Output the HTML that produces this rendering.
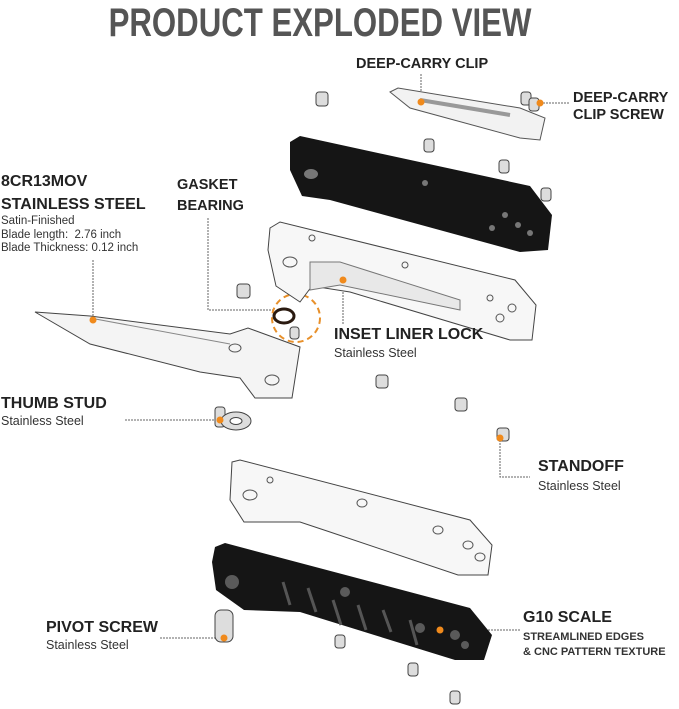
<!DOCTYPE html>
<html><head><meta charset="utf-8"><style>
body{margin:0;width:679px;height:709px;background:#fff;overflow:hidden;position:relative;font-family:"Liberation Sans",sans-serif;color:#222}
.t{position:absolute;white-space:nowrap}
.h{font-size:14.5px;font-weight:bold}
.s{font-size:12.5px;color:#333}
</style></head><body>
<svg width="679" height="709" style="position:absolute;left:0;top:0">
<text x="320" y="36" text-anchor="middle" font-family="Liberation Sans" font-weight="bold" font-size="40" fill="#555" transform="translate(320 0) scale(0.78 1) translate(-320 0)">PRODUCT EXPLODED VIEW</text>
<g stroke="#666" stroke-width="1" fill="none" stroke-dasharray="2 1">
<line x1="421" y1="74" x2="421" y2="102"/>
<line x1="540" y1="103" x2="570" y2="103"/>
<line x1="93" y1="260" x2="93" y2="320"/>
<polyline points="208,218 208,310 275,310"/>
<line x1="343" y1="280" x2="343" y2="325"/>
<line x1="125" y1="420" x2="215" y2="420"/>
<polyline points="500,440 500,477 530,477"/>
<line x1="160" y1="638" x2="220" y2="638"/>
<line x1="440" y1="630" x2="520" y2="630"/>
</g>
<circle cx="296" cy="318" r="24" fill="none" stroke="#e8902a" stroke-width="2" stroke-dasharray="6 4"/>
<polygon points="290,142 300,136 530,186 552,215 548,250 520,252 330,200 302,196 290,170" fill="#151515"/>
<g fill="#777"><ellipse cx="311" cy="174" rx="7" ry="5"/><circle cx="425" cy="183" r="3"/><circle cx="505" cy="215" r="3"/><circle cx="518" cy="225" r="3"/><circle cx="530" cy="233" r="3"/><circle cx="492" cy="228" r="3"/></g>
<path d="M390,92 L398,88 L520,108 L545,118 L540,140 L520,138 L410,108 Z" fill="#f2f2f2" stroke="#555"/>
<path d="M420,100 L510,115" stroke="#999" stroke-width="4"/>
<polygon points="270,228 280,222 515,280 536,305 532,340 510,340 350,292 312,286 300,302 276,286 268,250" fill="#f7f7f7" stroke="#444"/>
<path d="M310,262 L340,262 L460,300 L460,310 L340,285 L310,290 Z" fill="#e8e8e8" stroke="#777"/>
<g fill="none" stroke="#555"><ellipse cx="290" cy="262" rx="7" ry="5"/><circle cx="312" cy="238" r="3"/><circle cx="405" cy="265" r="3"/><circle cx="490" cy="298" r="3"/><circle cx="512" cy="308" r="4"/><circle cx="500" cy="318" r="4"/></g>
<polygon points="35,312 90,316 230,334 248,328 300,347 292,398 255,398 240,378 200,372 90,344" fill="#f4f4f4" stroke="#444"/>
<path d="M90,318 L230,344" stroke="#888"/>
<g fill="none" stroke="#555"><ellipse cx="235" cy="348" rx="6" ry="4"/><ellipse cx="272" cy="380" rx="7" ry="5"/></g>
<polygon points="232,462 240,460 470,520 492,545 488,575 458,575 330,532 300,522 244,522 230,500" fill="#f7f7f7" stroke="#444"/>
<g fill="none" stroke="#555"><ellipse cx="250" cy="495" rx="7" ry="5"/><circle cx="270" cy="480" r="3"/><ellipse cx="362" cy="503" rx="5" ry="4"/><ellipse cx="438" cy="530" rx="5" ry="4"/><ellipse cx="468" cy="545" rx="5" ry="4"/><ellipse cx="480" cy="557" rx="5" ry="4"/></g>
<polygon points="215,547 225,543 470,608 492,635 484,660 455,660 300,612 244,610 216,590 212,562" fill="#151515"/>
<g fill="#5a5a5a"><circle cx="232" cy="582" r="7"/><circle cx="345" cy="592" r="5"/><circle cx="420" cy="628" r="5"/><circle cx="455" cy="635" r="5"/><circle cx="465" cy="645" r="4"/></g>
<g stroke="#555" stroke-width="3"><line x1="283" y1="582" x2="290" y2="605"/><line x1="308" y1="588" x2="316" y2="612"/><line x1="333" y1="600" x2="341" y2="625"/><line x1="358" y1="605" x2="366" y2="630"/><line x1="383" y1="610" x2="391" y2="632"/><line x1="410" y1="620" x2="417" y2="645"/></g>
<g fill="#ddd" stroke="#444">
<rect x="316" y="92" width="12" height="14" rx="3"/><rect x="424" y="139" width="10" height="13" rx="3"/><rect x="499" y="160" width="10" height="13" rx="3"/><rect x="541" y="188" width="10" height="13" rx="3"/>
<rect x="521" y="92" width="10" height="13" rx="3"/><rect x="529" y="98" width="10" height="13" rx="3"/>
<rect x="237" y="284" width="13" height="14" rx="3"/><rect x="290" y="327" width="9" height="12" rx="3"/>
<rect x="376" y="375" width="12" height="13" rx="3"/><rect x="455" y="398" width="12" height="13" rx="3"/><rect x="497" y="428" width="12" height="13" rx="3"/>
<rect x="215" y="407" width="10" height="20" rx="3"/>
<rect x="215" y="610" width="18" height="32" rx="6"/>
<rect x="335" y="635" width="10" height="13" rx="3"/><rect x="408" y="663" width="10" height="13" rx="3"/><rect x="450" y="691" width="10" height="13" rx="3"/>
</g>
<ellipse cx="236" cy="421" rx="15" ry="9" fill="#ddd" stroke="#444"/><ellipse cx="236" cy="421" rx="6" ry="3.5" fill="#fff" stroke="#444"/>
<ellipse cx="284" cy="316" rx="10" ry="7" fill="none" stroke="#2a1a10" stroke-width="3"/>
<g fill="#f08a1c"><circle cx="421" cy="102" r="3.5"/><circle cx="540" cy="103" r="3.5"/><circle cx="93" cy="320" r="3.5"/><circle cx="343" cy="280" r="3.5"/><circle cx="220" cy="420" r="3.5"/><circle cx="500" cy="438" r="3.5"/><circle cx="224" cy="638" r="3.5"/><circle cx="440" cy="630" r="3.5"/></g>
</svg>
<div class="t h" style="left:356px;top:56px">DEEP-CARRY CLIP</div>
<div class="t h" style="left:573px;top:90px;line-height:17px">DEEP-CARRY<br>CLIP SCREW</div>
<div class="t h" style="left:1px;top:170px;line-height:23px;font-size:16px">8CR13MOV<br>STAINLESS STEEL</div>
<div class="t" style="left:1px;top:215px;font-size:11.5px;line-height:13.5px;color:#333">Satin-Finished<br>Blade length:&nbsp; 2.76 inch<br>Blade Thickness:&nbsp;0.12 inch</div>
<div class="t h" style="left:177px;top:175px;line-height:21px">GASKET<br>BEARING</div>
<div class="t h" style="left:334px;top:326px;font-size:16px">INSET LINER LOCK</div>
<div class="t s" style="left:334px;top:346px">Stainless Steel</div>
<div class="t h" style="left:1px;top:395px;font-size:16px">THUMB STUD</div>
<div class="t s" style="left:1px;top:414px">Stainless Steel</div>
<div class="t h" style="left:538px;top:458px;font-size:16px">STANDOFF</div>
<div class="t s" style="left:538px;top:479px">Stainless Steel</div>
<div class="t h" style="left:46px;top:619px;font-size:16px">PIVOT SCREW</div>
<div class="t s" style="left:46px;top:638px">Stainless Steel</div>
<div class="t h" style="left:523px;top:609px;font-size:16px">G10 SCALE</div>
<div class="t" style="left:523px;top:630px;font-size:11px;line-height:15px;color:#333;font-weight:bold">STREAMLINED EDGES<br>&amp; CNC PATTERN TEXTURE</div>
</body></html>
